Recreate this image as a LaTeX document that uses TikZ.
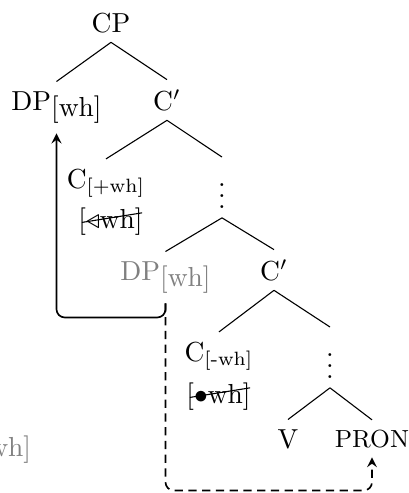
\documentclass[tikz,border=0pt]{standalone}
\usepackage{amsmath}

\newcommand{\lowsub}[1]{\raisebox{-2.5pt}{#1}}% full-size, lowered feature

\begin{document}
\begin{tikzpicture}[x=0.3636pt,y=-0.3636pt,
    lbl/.style={anchor=base},
    feat/.style={anchor=base,inner sep=0pt},
    dots/.style={anchor=north},
    moved/.style={anchor=base,text=gray},
    mv/.style={semithick,rounded corners=3pt,-stealth}]
    \useasboundingbox (0,0) rectangle (409,493);% page frame, y runs down

    \node[lbl] (cp) at (111,32) {CP};% upper CP
    \node[lbl] (dp) at (56.5,110) {DP\lowsub{[wh]}};
    \node[lbl] (cbar1) at (167,110) {C$'$};
    \node[lbl] (cplus) at (106,188) {C$_{[\text{+wh}]}$};
    \node[feat] (wh1) at (110.5,228) {[$\triangleleft$wh]};
    \node[dots] (vd1) at (222,157) {$\vdots$};

    \node[moved] (dpg) at (165.5,280) {DP\lowsub{[wh]}};% lower copy
    \node[lbl] (cbar2) at (274,280) {C$'$};
    \node[lbl] (cminus) at (219,361) {C$_{[\text{-wh}]}$};
    \node[feat] (wh2) at (218.5,403) {[$\bullet$wh]};
    \node[dots] (vd2) at (330,327) {$\vdots$};
    \node[lbl] (v) at (288,448) {V};
    \node[lbl] (pron) at (372,447) {\small PRON};

    \node[moved] (dpl) at (-14,450) {DP\lowsub{[wh]}};% runs off the left edge

    % branches
    \draw (cp.south) -- (dp.north);
    \draw (cp.south) -- (cbar1.north);
    \draw (cbar1.south) -- (cplus.north);
    \draw (cbar1.south) -- (vd1.north);
    \draw (vd1.south) -- (dpg.north);
    \draw (vd1.south) -- (cbar2.north);
    \draw (cbar2.south) -- (cminus.north);
    \draw (cbar2.south) -- (vd2.north);
    \draw (vd2.south) -- (v.north);
    \draw (vd2.south) -- (pron.north);

    % struck-out features
    \draw ([shift={(4,-13)}]wh1.south west) -- ([shift={(-1,6)}]wh1.north east);
    \draw ([shift={(4,-13)}]wh2.south west) -- ([shift={(-1,6)}]wh2.north east);

    % movement paths
    \draw[mv] (dpg.south) -- ++(0,14) -| (dp.south);
    \draw[mv,densely dashed] (dpg.south) -- ++(0,187) -| (pron.south);
\end{tikzpicture}
\end{document}
